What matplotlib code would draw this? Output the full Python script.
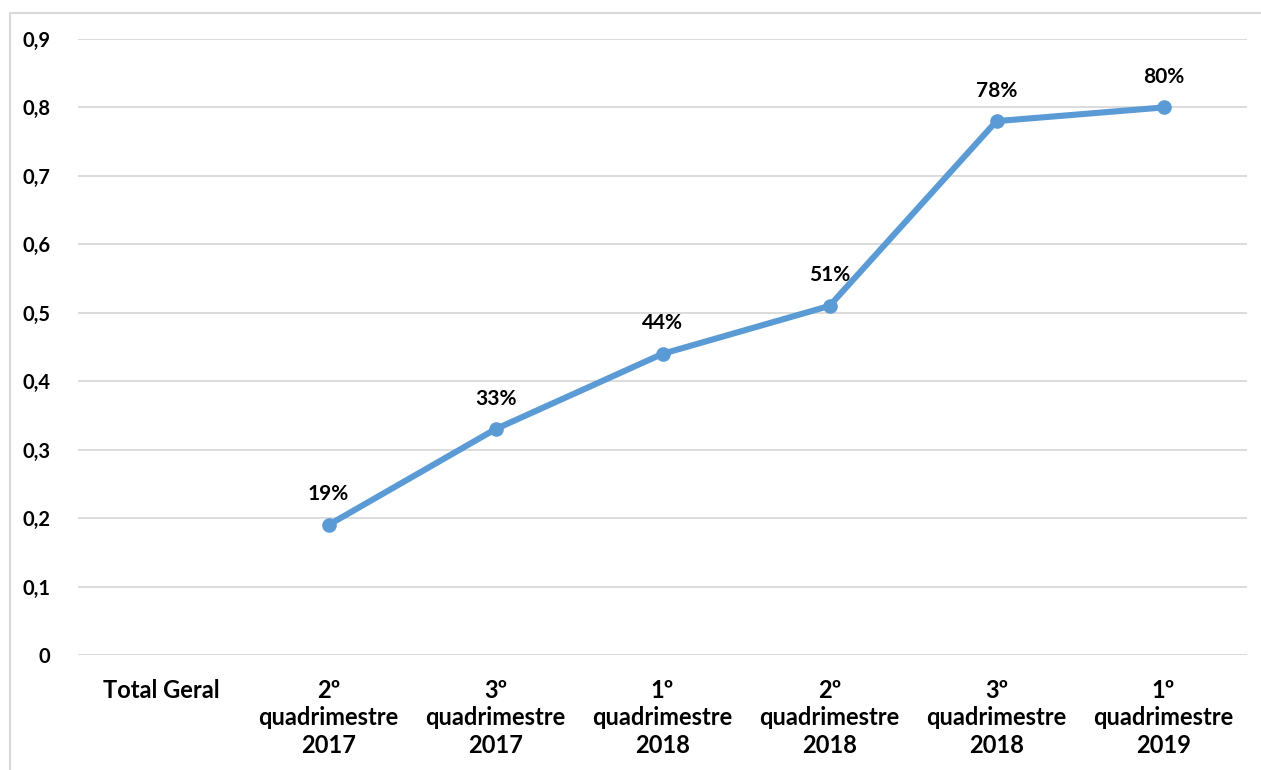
import matplotlib
matplotlib.use("Agg")
import matplotlib.pyplot as plt
from matplotlib.patches import Rectangle

categories = ["Total Geral", "2º\nquadrimestre\n2017", "3º\nquadrimestre\n2017",
              "1º\nquadrimestre\n2018", "2º\nquadrimestre\n2018",
              "3º\nquadrimestre\n2018", "1º\nquadrimestre\n2019"]
values = [None, 0.19, 0.33, 0.44, 0.51, 0.78, 0.80]
yticks = [0, 0.1, 0.2, 0.3, 0.4, 0.5, 0.6, 0.7, 0.8, 0.9]
ytick_labels = ["0", "0,1", "0,2", "0,3", "0,4", "0,5", "0,6", "0,7", "0,8", "0,9"]

plt.rcParams['font.family'] = ['Lato', 'DejaVu Sans']

W, H = 1261, 770
fig = plt.figure(figsize=(W / 100, H / 100), dpi=100)
ax = fig.add_axes([78 / W, 1 - 655 / H, (1247 - 78) / W, (655 - 39) / H])

xs = [i for i, v in enumerate(values) if v is not None]
ys = [v for v in values if v is not None]
ax.plot(xs, ys, color="#5B9BD5", lw=4.4, marker="o", markersize=9.5,
        solid_capstyle="round", solid_joinstyle="round", zorder=3)
for x, y in zip(xs, ys):
    ax.annotate(f"{round(y * 100)}%", (x, y), xytext=(0, 22), textcoords="offset points",
                ha="center", va="center", fontsize=15, fontweight="bold", color="black")

ax.set_xlim(-0.5, len(categories) - 0.5)
ax.set_ylim(0, 0.9)
ax.set_yticks(yticks)
ax.set_yticklabels(ytick_labels)
ax.set_xticks(range(len(categories)))
ax.set_xticklabels(categories, linespacing=1.24, va="top")
ax.tick_params(axis="both", length=0)
ax.tick_params(axis="y", pad=20, labelsize=14.5)
ax.tick_params(axis="x", pad=17, labelsize=17)
for lab in ax.get_xticklabels() + ax.get_yticklabels():
    lab.set_fontweight("bold")
ax.grid(axis="y", color="#D9D9D9", lw=1.3)
ax.set_axisbelow(True)
for s in ax.spines.values():
    s.set_visible(False)

fig.patches.append(Rectangle((10 / W, -0.05), 1.1, 1 - 13 / H + 0.05, transform=fig.transFigure,
                             fill=False, edgecolor="#D9D9D9", lw=1.5))

fig.savefig("out.png", dpi=100)
